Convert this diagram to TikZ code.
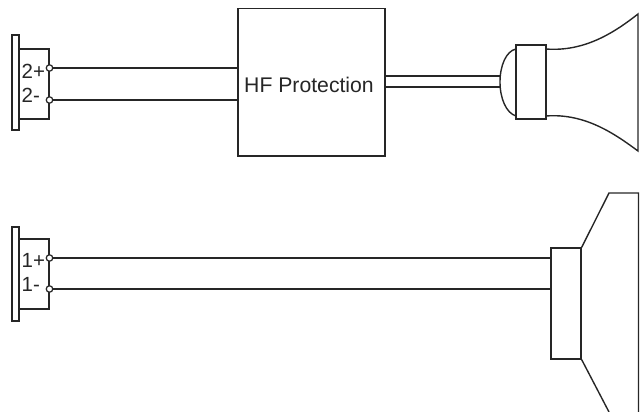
\documentclass[tikz,border=0pt]{standalone}
\usepackage{fontspec}
\setmainfont{Liberation Sans}
\tikzset{
  wire/.style={line width=1.4pt,draw=black!85},
  lbl/.style={inner sep=0pt,text=black!85,anchor=west,font=\fontsize{20.5}{21}\selectfont},
  term/.style={circle,draw=black!85,fill=white,line width=1.2pt,inner sep=0pt,minimum size=6.5pt},
}
\begin{document}
\begin{tikzpicture}[x=1pt,y=-1pt,line join=miter]
\useasboundingbox (0,0) rectangle (640,412);
% top connector
\draw[wire] (12,35) rectangle (19,130);
\draw[wire] (19,49) -- (49,49) -- (49,119) -- (19,119);
\node[term] (t2p) at (49.5,68) {};
\node[term] (t2m) at (49.5,100) {};
\node[lbl] (l2p) at (21.5,71) {2+};
\node[lbl] (l2m) at (21.5,95) {2-};
% HF box
\node[draw=black!85,line width=1.4pt,minimum width=147pt,minimum height=147.5pt,inner sep=0pt] (hf) at (311.5,82.2) {};
\node[inner sep=0pt,font=\fontsize{21.2}{22}\selectfont,text=black!85] (hflabel) at (309,85) {HF Protection};
\draw[wire] (t2p) -- (t2p -| hf.west);
\draw[wire] (t2m) -- (t2m -| hf.west);
% horn
\coordinate (domeL) at (500,82);
\coordinate (w1) at (500,76);
\coordinate (w2) at (500,87);
\draw[wire] (w1 -| hf.east) -- (w1);
\draw[wire] (w2 -| hf.east) -- (w2);
\draw[wire] (516,49) .. controls (506,51) and (500,66) .. (domeL) .. controls (500,98) and (506,113) .. (516,116);
\draw[wire] (516,45) rectangle (546,119);
\draw[wire] (546,49) .. controls (585,52) and (615,32) .. (638,14) -- (638,151)
  .. controls (615,134) and (585,113) .. (546,116);
% bottom connector
\draw[wire] (12,227) rectangle (19,321);
\draw[wire] (19,239) -- (49,239) -- (49,309) -- (19,309);
\node[term] (t1p) at (49.5,258) {};
\node[term] (t1m) at (49.5,289) {};
\node[lbl] (l1p) at (21.5,260.5) {1+};
\node[lbl] (l1m) at (21.5,284) {1-};
% bottom speaker
\node[draw=black!85,line width=1.4pt,minimum width=30pt,minimum height=111pt,inner sep=0pt] (spk) at (566,303.5) {};
\draw[wire] (t1p) -- (t1p -| spk.west);
\draw[wire] (t1m) -- (t1m -| spk.west);
\draw[wire] (spk.north east) -- (609,193) -- (638.5,193) -- (638.5,412);
\draw[wire] (spk.south east) -- (609,412);
\end{tikzpicture}
\end{document}
